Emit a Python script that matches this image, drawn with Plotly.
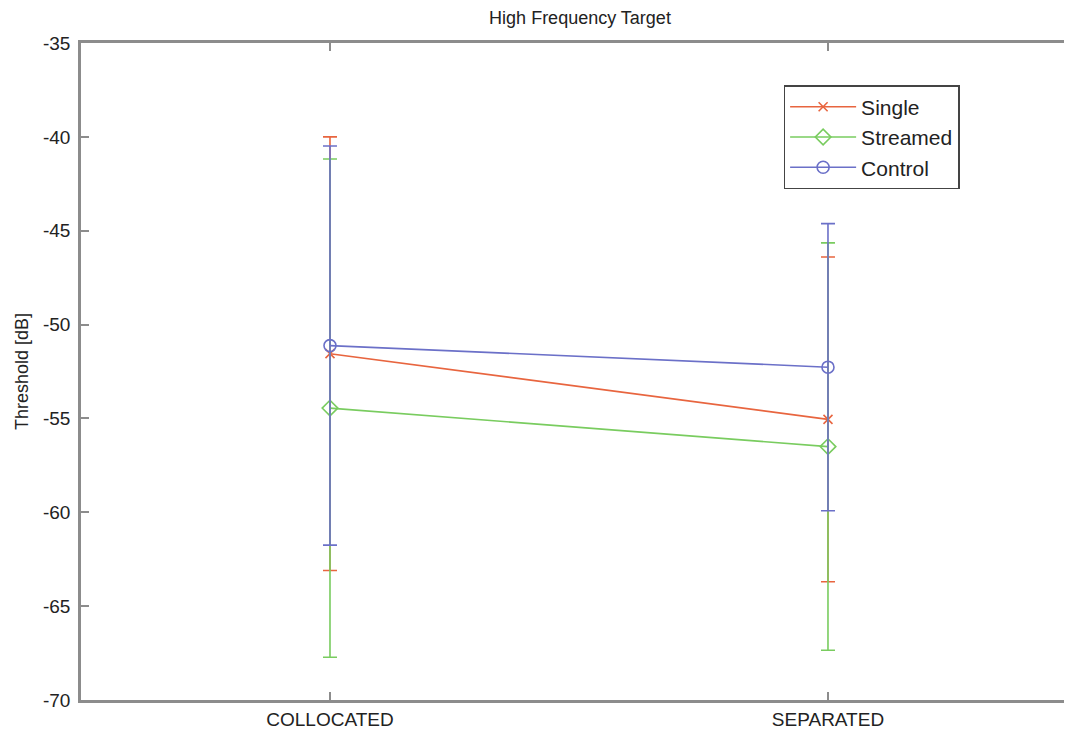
import plotly.graph_objects as go

categories = ["COLLOCATED", "SEPARATED"]
x_pos = [1, 2]

y_ticks = [-70, -65, -60, -55, -50, -45, -40, -35]
y_tick_labels = ["-70", "-65", "-60", "-55", "-50", "-45", "-40", "-35"]

single_mean = [-51.55, -55.05]
single_err = [11.55, 8.65]
streamed_mean = [-54.45, -56.5]
streamed_err = [13.27, 10.85]
control_mean = [-51.12, -52.27]
control_err = [10.63, 7.65]

series = [
    ("Single", single_mean, single_err, "#e8653f", "x-thin-open", 9),
    ("Streamed", streamed_mean, streamed_err, "#79cc5f", "diamond-open", 12),
    ("Control", control_mean, control_err, "#6b70c8", "circle-open", 12),
]

fig = go.Figure()
for name, mean, err, color, sym, msize in series:
    fig.add_trace(go.Scatter(
        x=x_pos, y=mean, name=name, mode="lines+markers",
        legendgroup=name,
        line=dict(color=color, width=1.6),
        marker=dict(symbol=sym, size=msize, color=color,
                    line=dict(color=color, width=1.6)),
        error_y=dict(type="data", array=err, visible=True,
                     color=color, thickness=1.6, width=7),
    ))

axis_color = "#8c8c8c"
font_family = "Liberation Sans, Arial, sans-serif"

fig.update_layout(
    width=1064, height=725,
    paper_bgcolor="white", plot_bgcolor="white",
    margin=dict(l=73, r=0, t=35, b=33, autoexpand=False),
    font=dict(family=font_family, size=19, color="#222222"),
    title=dict(text="High Frequency Target", x=0.5376, xanchor="center",
               y=0.986, yanchor="middle", font=dict(size=18, color="#222222")),
    showlegend=True,
    legend=dict(x=0.709, y=0.936, xanchor="left", yanchor="top",
                bordercolor="#444444", borderwidth=1.5, bgcolor="white",
                font=dict(size=21, color="#222222"),
                tracegroupgap=0, itemwidth=66),
    xaxis=dict(range=[0.5, 2.49], tickvals=x_pos, ticktext=categories,
               showgrid=False, zeroline=False, automargin=False,
               showline=True, linecolor=axis_color, linewidth=2.5,
               mirror="ticks", ticks="inside", ticklen=8, tickwidth=1.5,
               tickcolor=axis_color, tickfont=dict(size=19, color="#222222")),
    yaxis=dict(range=[-70, -35], tickvals=y_ticks, ticktext=y_tick_labels,
               showgrid=False, zeroline=False, automargin=False,
               showline=True, linecolor=axis_color, linewidth=2.5,
               mirror="ticks", ticks="inside", ticklen=8, tickwidth=1.5,
               tickcolor=axis_color, ticklabelstandoff=4,
               tickfont=dict(size=19, color="#222222"),
               title=dict(text="Threshold [dB]", standoff=10,
                          font=dict(size=18, color="#222222"))),
)

fig.write_html("out.html")
